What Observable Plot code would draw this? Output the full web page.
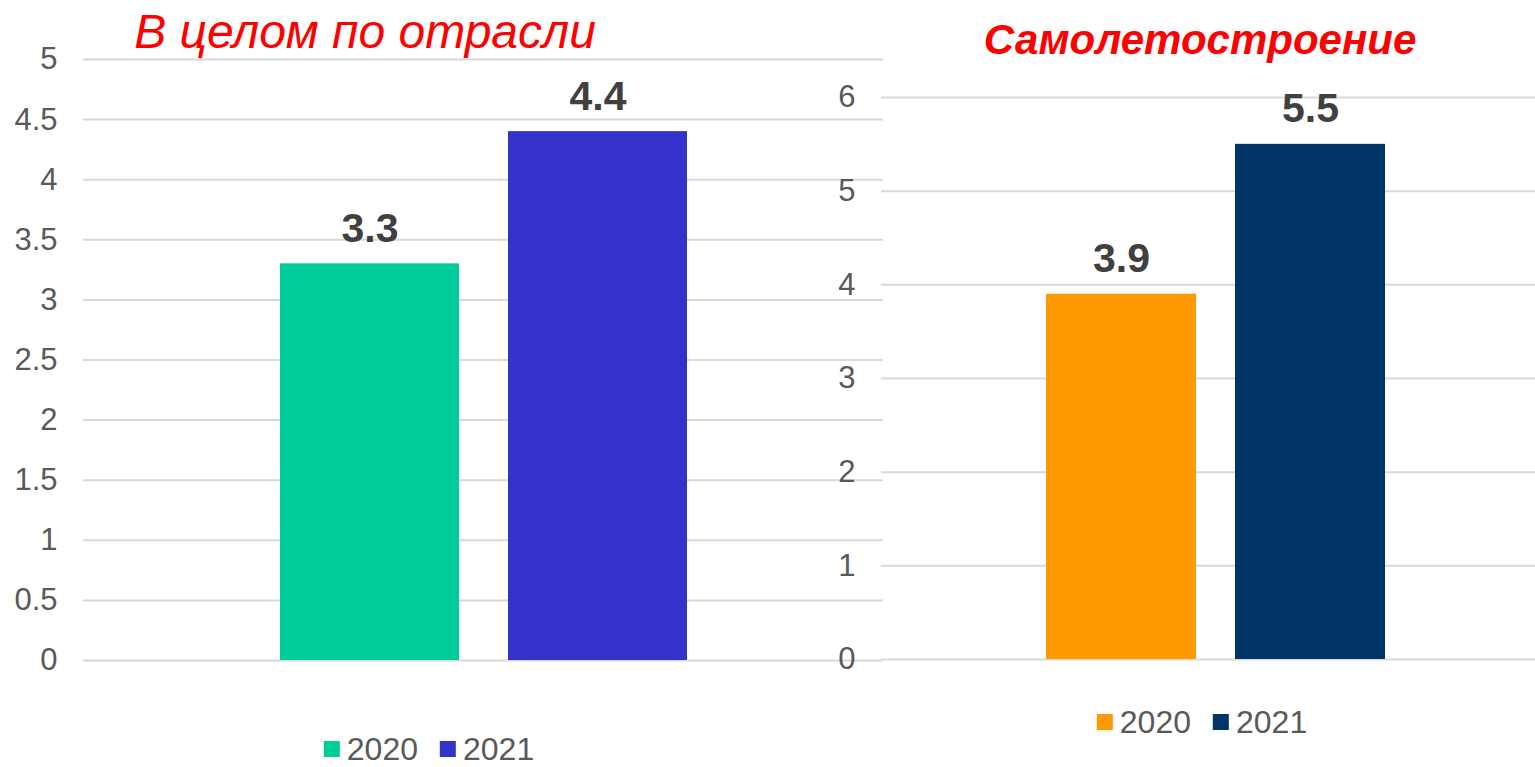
<!DOCTYPE html>
<html>
<head>
<meta charset="utf-8">
<script src="https://cdn.jsdelivr.net/npm/d3@7"></script>
<script src="https://cdn.jsdelivr.net/npm/@observablehq/plot@0.6"></script>
<style>
  html, body { margin: 0; padding: 0; background: #fff; }
  #wrap { position: relative; width: 1535px; height: 767px; overflow: hidden; font-family: Arial, "Liberation Sans", sans-serif; }
  .chart { position: absolute; top: 0; }
  .title { position: absolute; color: #ff0000; font-style: italic; white-space: nowrap; transform: translateX(-50%); }
  .legend { position: absolute; display: flex; align-items: center; transform: translateX(-50%); color: #595959; font-size: 32px; white-space: nowrap; }
  .legend .sw { width: 16px; height: 16px; display: inline-block; margin-right: 7px; }
  .legend .item { display: flex; align-items: center; margin: 0 11px; }
</style>
</head>
<body>
<div id="wrap"></div>
<script>
// ---- data ----
const years = ["2020", "2021"];
const industryValues = [3.3, 4.4];
const aircraftValues = [3.9, 5.5];
const industryColors = ["#00cc99", "#3333cc"];
const aircraftColors = ["#ff9900", "#003366"];
const industryTicks = [0, 0.5, 1, 1.5, 2, 2.5, 3, 3.5, 4, 4.5, 5];
const aircraftTicks = [0, 1, 2, 3, 4, 5, 6];
const industryTitle = "В целом по отрасли";
const aircraftTitle = "Самолетостроение";

const wrap = document.getElementById("wrap");
const font = 'Arial, "Liberation Sans", sans-serif';

function makeChart({values, colors, ticks, yMax, left, width, marginLeft, y0, yTop, xRange, padInner}) {
  const data = years.map((y, i) => ({year: y, value: values[i]}));
  const chart = Plot.plot({
    width, height: 767,
    marginLeft, marginRight: 0, marginTop: yTop, marginBottom: 767 - y0,
    style: {background: "transparent", fontFamily: font, overflow: "visible"},
    x: {type: "band", domain: years, range: xRange, paddingInner: padInner, paddingOuter: 0, axis: null},
    y: {domain: [0, yMax], axis: null},
    color: {domain: years, range: colors},
    marks: [
      Plot.gridY(ticks, {stroke: "#d9d9d9", strokeOpacity: 1, strokeWidth: 2}),
      Plot.axisY(ticks, {tickSize: 0, tickPadding: 26, fontSize: 31, color: "#595959", tickFormat: d => String(d), label: null}),
      Plot.barY(data, {x: "year", y: "value", fill: "year"}),
      Plot.text(data, {x: "year", y: "value", text: d => d.value.toFixed(1), dy: -35, lineAnchor: "middle", fontSize: 41, fontWeight: "bold", fill: "#404040"})
    ]
  });
  chart.classList.add("chart");
  chart.style.left = left + "px";
  wrap.appendChild(chart);
}

makeChart({values: industryValues, colors: industryColors, ticks: industryTicks, yMax: 5,
  left: 0, width: 883, marginLeft: 83, y0: 660, yTop: 59, xRange: [280, 687], padInner: 0.215});
makeChart({values: aircraftValues, colors: aircraftColors, ticks: aircraftTicks, yMax: 6,
  left: 760, width: 775, marginLeft: 121, y0: 659, yTop: 97, xRange: [286, 626], padInner: 0.206});

function addTitle(text, cx, top, size, weight) {
  const d = document.createElement("div");
  d.className = "title";
  d.textContent = text;
  d.style.left = cx + "px";
  d.style.top = top + "px";
  d.style.fontSize = size + "px";
  d.style.fontWeight = weight;
  d.style.lineHeight = "1";
  wrap.appendChild(d);
}
addTitle(industryTitle, 365, 8, 48, "normal");
addTitle(aircraftTitle, 1200, 19, 42, "bold");

function addLegend(colors, cx, cy) {
  const d = document.createElement("div");
  d.className = "legend";
  d.style.left = cx + "px";
  d.style.top = (cy - 16) + "px";
  d.style.lineHeight = "32px";
  years.forEach((y, i) => {
    const it = document.createElement("span");
    it.className = "item";
    const sw = document.createElement("span");
    sw.className = "sw";
    sw.style.background = colors[i];
    it.appendChild(sw);
    it.appendChild(document.createTextNode(y));
    d.appendChild(it);
  });
  wrap.appendChild(d);
}
addLegend(industryColors, 429, 749);
addLegend(aircraftColors, 1202, 722);
</script>
</body>
</html>
